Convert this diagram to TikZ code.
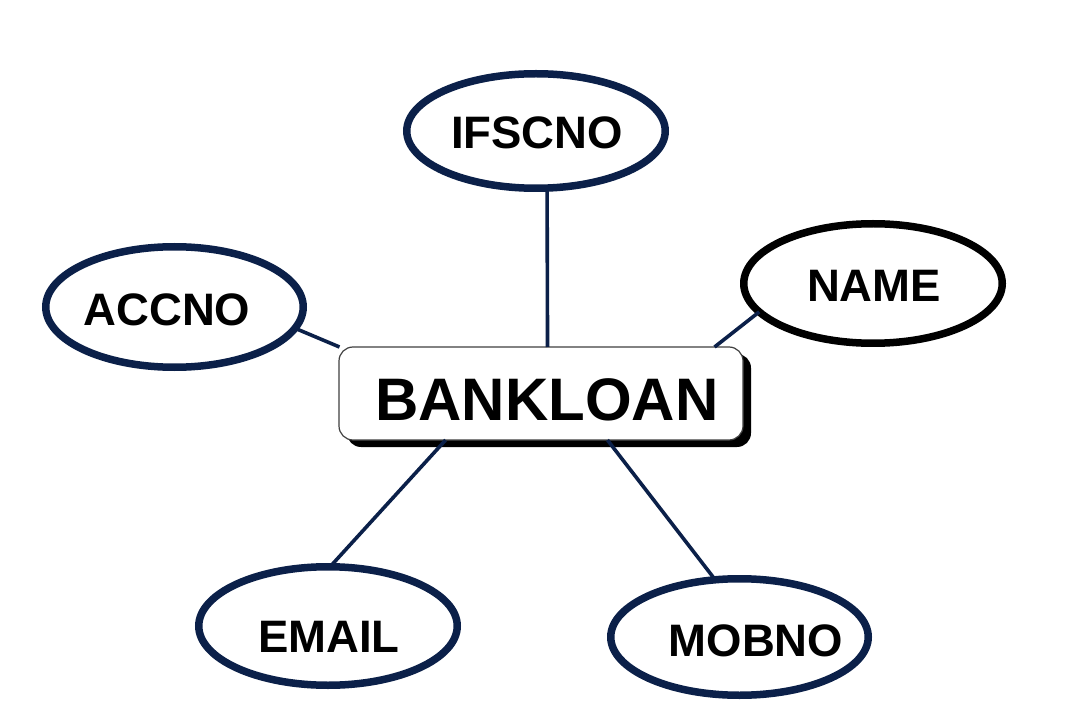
\documentclass[tikz,border=0pt]{standalone}
\usepackage{fontspec}
\setmainfont{Liberation Sans}
\usetikzlibrary{shapes.geometric,shadows}
\definecolor{navy}{HTML}{0B2049}
\tikzset{
  attr/.style={ellipse, draw=navy, line width=7.5pt, fill=white, inner sep=0pt, outer sep=0pt, minimum width=258.5pt},
  attrtext/.style={inner sep=0pt, font=\fontsize{45.5}{50}\selectfont\bfseries, text=black},
  entity/.style={rectangle, rounded corners=14pt, draw=black!75, line width=1.2pt, fill=white,
     minimum width=404pt, minimum height=93pt, inner sep=0pt, outer sep=0pt,
     drop shadow={shadow xshift=8pt, shadow yshift=-7pt, fill=black, opacity=1},
     font=\fontsize{60}{66}\selectfont\bfseries},
  link/.style={draw=navy, line width=3.6pt}
}
\begin{document}
\begin{tikzpicture}[x=1pt,y=-1pt]
\useasboundingbox (0,0) rectangle (1090,727);
\fill[white] (0,0) rectangle (1090,727);
% entity
\node[entity] (bank) at (541,393.5) {};
\node[attrtext, font=\fontsize{60}{66}\selectfont\bfseries] (bankT) at (547,400) {BANKLOAN};
% attribute ellipses
\node[attr, minimum height=114.5pt] (ifsc) at (536,131) {};
\node[attr, draw=black, line width=7.5pt, minimum height=119.5pt] (name) at (873,283.5) {};
\node[attr, minimum width=257.5pt, minimum height=120.5pt] (acc) at (174.5,307) {};
\node[attr, minimum height=118.5pt] (email) at (328,626) {};
\node[attr, minimum width=257.5pt, minimum height=116.5pt] (mob) at (739.5,637) {};
% texts
\node[attrtext] (ifscT) at (537,133) {IFSCNO};
\node[attrtext] (nameT) at (874,286) {NAME};
\node[attrtext] (accT) at (167,310) {ACCNO};
\node[attrtext] (emailT) at (329,637) {EMAIL};
\node[attrtext] (mobT) at (756,641) {MOBNO};
% connectors
\draw[link] (ifsc.-79.8) -- (bank.82.6);
\draw[link] (name.194.7) -- (bank.15.5);
\draw[link] (acc.-10.5) -- (bank.167.6);
\draw[link] (email.88) -- (bank.206.6);
\draw[link] (mob.113.3) -- (bank.-35.6);
\end{tikzpicture}
\end{document}
